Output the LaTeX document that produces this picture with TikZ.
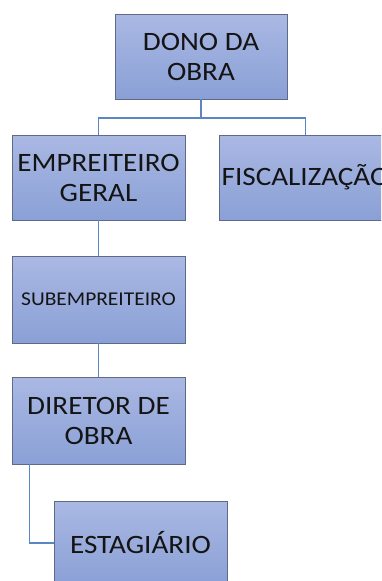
\documentclass[tikz,border=0pt]{standalone}
\usepackage{fontspec}
\setmainfont[FakeStretch=1.1]{Carlito}
\begin{document}
\begin{tikzpicture}[x=1pt,y=1pt,
  box/.style={rectangle, draw=boxline, line width=0.9pt, top color=boxtop, bottom color=boxbot,
    minimum width=173pt, minimum height=86pt, align=center, inner sep=0pt,
    font=\fontsize{26.5}{30}\selectfont, text=black!92},
  conn/.style={draw=connline, line width=1.6pt}]
\definecolor{boxtop}{HTML}{AAB8E3}
\definecolor{boxbot}{HTML}{8AA0D6}
\definecolor{boxline}{HTML}{5F6A88}
\definecolor{connline}{HTML}{5A86C4}
\useasboundingbox (0,0) rectangle (381,-581);
\clip (0,0) rectangle (381,-581);
\node[box, minimum width=172pt, minimum height=85pt] (dono) at (201,-56.5) {DONO DA\\OBRA};
\node[box, minimum height=85pt] (emp) at (98.5,-177.5) {EMPREITEIRO\\GERAL};
\node[box, minimum height=85pt] (fisc) at (305.5,-177.5) {FISCALIZAÇÃO};
\node[box, minimum height=87pt, font=\fontsize{19.5}{23}\selectfont] (sub) at (98.5,-299.5) {SUBEMPREITEIRO};
\node[box, minimum height=87pt] (dir) at (98.5,-420.5) {DIRETOR DE\\OBRA};
\node[box, minimum height=84pt] (est) at (140.5,-543) {ESTAGIÁRIO};
\coordinate (j) at (201,-118);
\draw[conn, line width=2.4pt] (dono.south) -- (j);
\draw[conn] (j) -| (emp.north);
\draw[conn] (j) -| (fisc.north);
\draw[conn] (emp.south) -- (sub.north);
\draw[conn] (sub.south) -- (dir.north);
\draw[conn] ([xshift=18pt]dir.south west) |- (est.west);
\end{tikzpicture}
\end{document}
